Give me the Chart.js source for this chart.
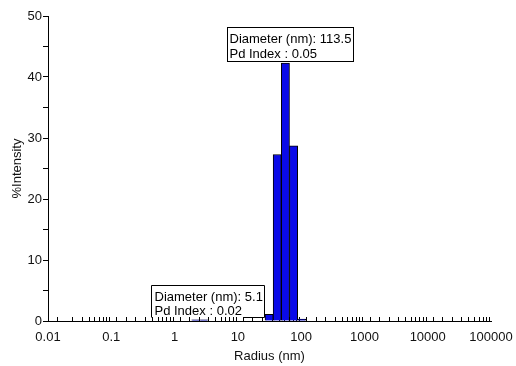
<!DOCTYPE html>
<html>
<head>
  <title>Size Distribution by Intensity</title>
  <script src="https://cdn.jsdelivr.net/npm/chart.js"></script>
  <style>
    html, body { margin: 0; padding: 0; background: #fff; }
    #wrap { width: 516px; height: 366px; }
  </style>
</head>
<body>
  <div id="wrap"><canvas id="sizeChart" width="516" height="366"></canvas></div>

  <script>
    // radius bins (nm, bin centres) and % intensity
    const radii = [2.16, 2.9, 31.2, 41.9, 56.4, 75.9, 102.1];
    const intensity = [0.2, 0.2, 1.1, 27.3, 42.3, 28.7, 0.3];

    const xTickLabels = ['0.01', '0.1', '1', '10', '100', '1000', '10000', '100000'];
    const yTickLabels = ['0', '10', '20', '30', '40', '50'];

    const peakNotes = [
      ['Diameter (nm): 113.5', 'Pd Index : 0.05'],
      ['Diameter (nm): 5.1', 'Pd Index : 0.02']
    ];

    const FONT = '"Liberation Sans", Arial, sans-serif';

    // boxed peak notes, placed from the scales
    const notesPlugin = {
      id: 'peakNotes',
      afterDraw(chart) {
        const ctx = chart.ctx;
        const xs = chart.scales.x, ys = chart.scales.y;
        ctx.save();
        ctx.font = '13px ' + FONT;
        ctx.fillStyle = '#000';
        ctx.strokeStyle = '#000';
        ctx.lineWidth = 1;
        ctx.textBaseline = 'alphabetic';

        // main peak: box centred over the tallest bar
        const iMax = intensity.indexOf(Math.max(...intensity));
        let lines = peakNotes[0];
        let w = Math.round(Math.max(...lines.map(t => ctx.measureText(t).width)) + 4);
        let h = 34;
        let cx = xs.getPixelForValue(radii[iMax]) + 5;
        let bottom = ys.getPixelForValue(intensity[iMax]) - 2;
        let left = Math.round(cx - w / 2) + 0.5, top = Math.round(bottom - h) + 0.5;
        ctx.strokeRect(left, top, w, h);
        ctx.fillText(lines[0], left + 2, top + 15);
        ctx.fillText(lines[1], left + 2, top + 30);

        // small peak: box sitting on the axis, left of the main peak
        lines = peakNotes[1];
        w = Math.round(Math.max(...lines.map(t => ctx.measureText(t).width)) + 5);
        const right = Math.round(xs.getPixelForValue(radii[2]) - 5) + 0.5;
        bottom = Math.round(ys.getPixelForValue(0) - 4) + 0.5;
        left = right - w;
        top = bottom - 32;
        ctx.beginPath();
        ctx.moveTo(left, bottom);
        ctx.lineTo(left, top);
        ctx.lineTo(right, top);
        ctx.lineTo(right, bottom);
        ctx.lineTo(right - 21, bottom);
        ctx.stroke();
        ctx.fillText(lines[0], left + 3, top + 15);
        ctx.fillText(lines[1], left + 3, top + 29);
        ctx.restore();
      }
    };

    const isDecade = v => Math.abs(Math.log10(v) - Math.round(Math.log10(v))) < 1e-6;

    new Chart(document.getElementById('sizeChart'), {
      type: 'bar',
      data: {
        datasets: [{
          label: '%Intensity',
          data: radii.map((r, i) => ({ x: r, y: intensity[i] })),
          backgroundColor: '#0a0ae8',
          borderColor: '#000',
          borderWidth: 1,
          barThickness: 8.2
        }]
      },
      options: {
        responsive: false,
        animation: false,
        devicePixelRatio: 1,
        layout: { padding: { top: 16, right: 25, left: 4, bottom: 2 } },
        plugins: {
          legend: { display: false },
          tooltip: { enabled: false }
        },
        scales: {
          x: {
            type: 'logarithmic',
            min: 0.01,
            max: 100000,
            border: { color: '#000', width: 1 },
            grid: { drawOnChartArea: false, tickLength: -4, color: '#000' },
            ticks: {
              autoSkip: false,
              maxRotation: 0,
              padding: 13,
              color: '#111',
              font: { family: FONT, size: 13 },
              callback: v => isDecade(v) ? xTickLabels[Math.round(Math.log10(v)) + 2] : ''
            },
            title: {
              display: true,
              text: 'Radius (nm)',
              color: '#111',
              font: { family: FONT, size: 13 },
              padding: { top: 2, bottom: 0 }
            },
            afterFit: s => { s.height = 43; s.paddingLeft = 0; s.paddingRight = 0; }
          },
          y: {
            min: 0,
            max: 50,
            border: { color: '#000', width: 1 },
            grid: { drawOnChartArea: false, tickLength: 5, color: '#000' },
            ticks: {
              stepSize: 5,
              padding: 1,
              color: '#111',
              font: { family: FONT, size: 13 },
              callback: v => v % 10 === 0 ? yTickLabels[v / 10] : ''
            },
            title: {
              display: true,
              text: '%Intensity',
              color: '#111',
              font: { family: FONT, size: 13 },
              padding: { top: 6, bottom: 0 }
            },
            afterFit: s => { s.width = 44; }
          }
        }
      },
      plugins: [notesPlugin]
    });
  </script>
</body>
</html>
